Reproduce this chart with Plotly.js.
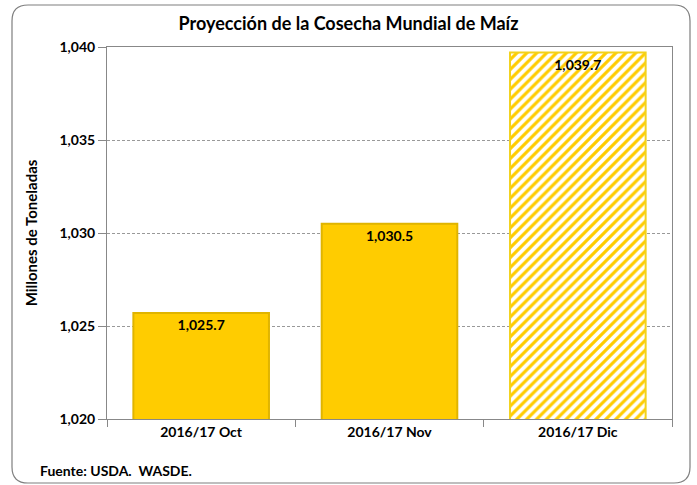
<!DOCTYPE html>
<html><head><meta charset="utf-8">
<script src="https://cdn.plot.ly/plotly-3.0.1.min.js"></script>
<style>html,body{margin:0;padding:0;background:#fff}</style>
</head><body>
<div id="chart" style="width:697px;height:485px"></div>
<script>
const categories = ["2016/17 Oct", "2016/17 Nov", "2016/17 Dic"];
const values = [1025.7, 1030.5, 1039.7];
const labels = ["1,025.7", "1,030.5", "1,039.7"];
const yTicks = [1020, 1025, 1030, 1035, 1040];
const yTickText = ["1,020", "1,025", "1,030", "1,035", "1,040"];

const FONT = "Lato, 'Open Sans', sans-serif";
const W = 697, H = 485, L = 107, R = 25, T = 47, B = 66;
const pw = W - L - R, ph = H - T - B;
function px(x){return (x - L)/pw;}
function py(y){return (H - B - y)/ph;}
const x0 = px(12), x1 = px(690), yTop = py(5), yBot = py(483);
const rx = 16/pw, ry = 16/ph;
const roundPath = `M ${x0+rx} ${yTop} L ${x1-rx} ${yTop} Q ${x1} ${yTop} ${x1} ${yTop-ry} L ${x1} ${yBot+ry} Q ${x1} ${yBot} ${x1-rx} ${yBot} L ${x0+rx} ${yBot} Q ${x0} ${yBot} ${x0} ${yBot+ry} L ${x0} ${yTop-ry} Q ${x0} ${yTop} ${x0+rx} ${yTop} Z`;

const common = {
  type: "bar",
  textposition: "inside",
  insidetextanchor: "end",
  textangle: 0,
  textfont: {family: FONT, size: 14, color: "#000", weight: "bold"},
  width: 0.72,
  hoverinfo: "none"
};

const solid = Object.assign({}, common, {
  x: categories.slice(0, 2),
  y: values.slice(0, 2),
  text: labels.slice(0, 2),
  marker: {color: "#FFCC00", line: {color: "#E0B400", width: 2}}
});
const hatched = Object.assign({}, common, {
  x: categories.slice(2),
  y: values.slice(2),
  text: labels.slice(2),
  marker: {
    color: "#FFFFFF",
    line: {color: "#F2D21C", width: 2},
    pattern: {shape: "/", fgcolor: "#FFCC00", bgcolor: "#FFFFFF", size: 7, solidity: 0.45, fillmode: "replace"}
  }
});

const layout = {
  width: W, height: H,
  margin: {l: L, r: R, t: T, b: B},
  paper_bgcolor: "#fff", plot_bgcolor: "#fff",
  showlegend: false,
  barmode: "overlay",
  title: {text: "Proyección de la Cosecha Mundial de Maíz", font: {family: FONT, size: 18, color: "#000", weight: "bold"}, x: 0.5, xanchor: "center", y: 1 - 24/H, yanchor: "middle"},
  xaxis: {
    type: "category", categoryarray: categories, categoryorder: "array",
    tickson: "boundaries", ticks: "outside", ticklen: 7, tickcolor: "#888",
    showline: true, linecolor: "#888", linewidth: 1, mirror: true,
    tickfont: {family: FONT, size: 14, color: "#000", weight: "bold"},
    showgrid: false, fixedrange: true
  },
  yaxis: {
    range: [1020, 1040], tickvals: yTicks, ticktext: yTickText,
    ticks: "outside", ticklen: 8, tickcolor: "#888",
    showline: true, linecolor: "#888", linewidth: 1, mirror: true,
    tickfont: {family: FONT, size: 14, color: "#000", weight: "bold"},
    showgrid: true, gridcolor: "#999", griddash: "3px,2px", gridwidth: 1,
    zeroline: false,
    title: {text: "Millones de Toneladas", font: {family: FONT, size: 15, color: "#000", weight: "bold"}, standoff: 18},
    fixedrange: true
  },
  shapes: [
    {type: "path", xref: "paper", yref: "paper", path: roundPath, line: {color: "#7f7f7f", width: 1.2}, fillcolor: "rgba(0,0,0,0)", layer: "below"}
  ],
  annotations: [
    {text: "Fuente: USDA.  WASDE.", xref: "paper", yref: "paper", x: px(38), y: py(470), xanchor: "left", yanchor: "middle", showarrow: false, font: {family: FONT, size: 14, color: "#000", weight: "bold"}}
  ]
};

Plotly.newPlot("chart", [solid, hatched], layout, {displayModeBar: false, staticPlot: true});
</script>
</body></html>
